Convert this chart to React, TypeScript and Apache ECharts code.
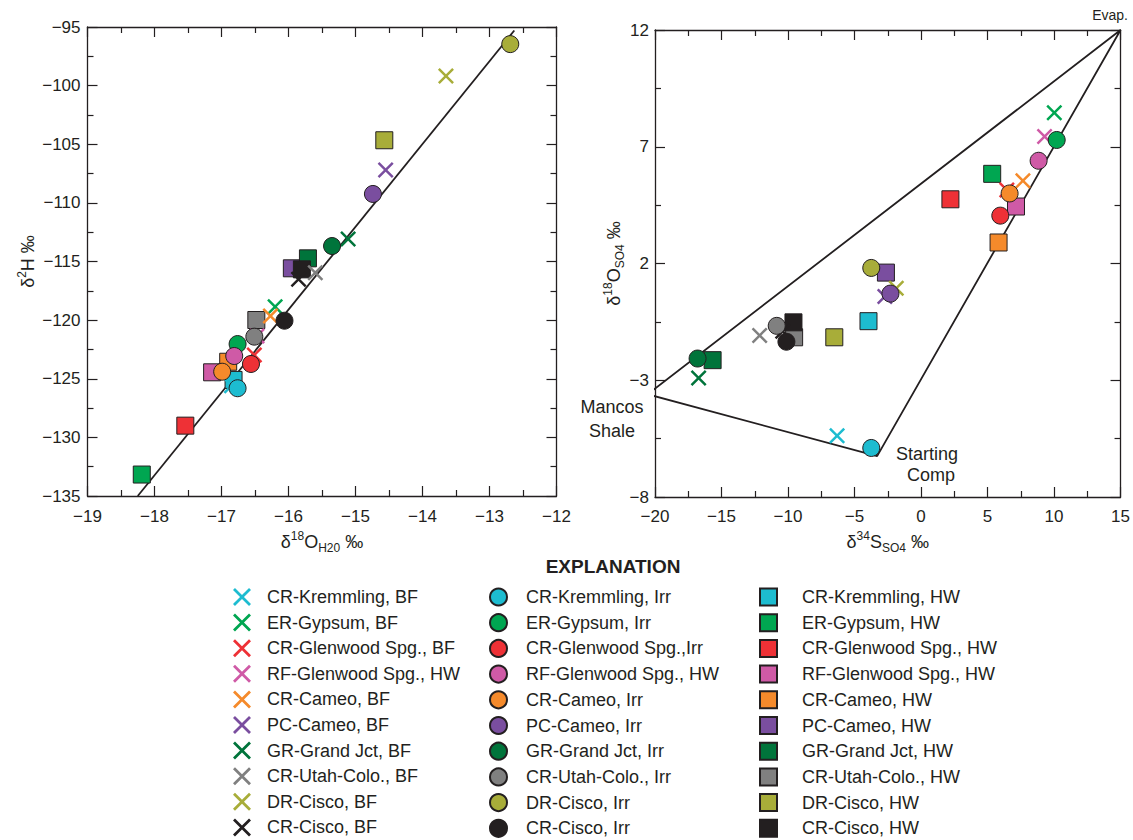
import React, { useEffect, useRef } from "react";
import * as echarts from "echarts";

const COLORS = ["#1dbcd0", "#00a651", "#ee3136", "#cf5aa6", "#f58a2b", "#7a4e9f", "#00743b", "#808080", "#a8ad39", "#231f20"];

const LABELS_BF = ["CR-Kremmling, BF", "ER-Gypsum, BF", "CR-Glenwood Spg., BF", "RF-Glenwood Spg., HW", "CR-Cameo, BF", "PC-Cameo, BF", "GR-Grand Jct, BF", "CR-Utah-Colo., BF", "DR-Cisco, BF", "CR-Cisco, BF"];
const LABELS_IRR = ["CR-Kremmling, Irr", "ER-Gypsum, Irr", "CR-Glenwood Spg.,Irr", "RF-Glenwood Spg., HW", "CR-Cameo, Irr", "PC-Cameo, Irr", "GR-Grand Jct, Irr", "CR-Utah-Colo., Irr", "DR-Cisco, Irr", "CR-Cisco, Irr"];
const LABELS_HW = ["CR-Kremmling, HW", "ER-Gypsum, HW", "CR-Glenwood Spg., HW", "RF-Glenwood Spg., HW", "CR-Cameo, HW", "PC-Cameo, HW", "GR-Grand Jct, HW", "CR-Utah-Colo., HW", "DR-Cisco, HW", "CR-Cisco, HW"];

// Left plot: delta18O (H2O) vs delta2H
const H_BF = [[-16.85, -125.6], [-16.2, -118.85], [-16.51, -122.97], [-16.47, -121.35], [-16.27, -119.65], [-14.55, -107.2], [-15.11, -113.08], [-15.6, -115.95], [-13.65, -99.18], [-15.85, -116.52]];
const H_IRR = [[-16.76, -125.81], [-16.76, -122.04], [-16.56, -123.74], [-16.81, -123.06], [-16.99, -124.4], [-14.74, -109.24], [-15.35, -113.68], [-16.51, -121.41], [-12.69, -96.46], [-16.06, -120.05]];
const H_HW = [[-16.82, -125.1], [-18.19, -133.17], [-17.54, -129.0], [-17.14, -124.45], [-16.9, -123.55], [-15.95, -115.58], [-15.71, -114.73], [-16.48, -119.99], [-14.57, -104.66], [-15.8, -115.67]];
const MWL = [[-18.25, -135], [-12.63, -95.3]];

// Right plot: delta34S (SO4) vs delta18O (SO4)
const S_BF = [[-6.31, -5.38], [10.02, 8.46], [6.45, 5.15], [9.29, 7.44], [7.66, 5.54], [-2.72, 0.59], [-16.72, -2.9], [-12.13, -1.08], [-1.86, 0.94], [-10.4, -0.9]];
const S_IRR = [[-3.74, -5.9], [10.2, 7.29], [5.96, 4.05], [8.84, 6.4], [6.66, 5.0], [-2.3, 0.71], [-16.8, -2.07], [-10.85, -0.67], [-3.74, 1.81], [-10.12, -1.35]];
const S_HW = [[-3.95, -0.47], [5.35, 5.84], [2.21, 4.75], [7.14, 4.44], [5.83, 2.9], [-2.64, 1.61], [-15.67, -2.14], [-9.54, -1.16], [-6.52, -1.16], [-9.59, -0.52]];
const TRIANGLE = [[15, 12], [-20.55, -3.6], [-3.3, -6.25], [15, 12]];

const INK = "#231f20";
const FONT = "'Liberation Sans', Arial, sans-serif";
const XPATH = "path://M0,1.1L1.1,0L5,3.9L8.9,0L10,1.1L6.1,5L10,8.9L8.9,10L5,6.1L1.1,10L0,8.9L3.9,5Z";

const minus = (v: number) => String(v).replace("-", "\u2212");

const richName = {
  b: { fontSize: 18, color: INK, fontFamily: FONT, lineHeight: 24 },
  sup: { fontSize: 12, color: INK, fontFamily: FONT, lineHeight: 14, verticalAlign: "top" },
  sub: { fontSize: 12, color: INK, fontFamily: FONT, lineHeight: 14, verticalAlign: "bottom" },
};

function axis(opts: any) {
  const { gridIndex, min, max, interval, position, showLabel, name, nameGap, labelMargin } = opts;
  return {
    type: "value",
    gridIndex,
    min,
    max,
    interval,
    position,
    name: name || "",
    nameLocation: "middle",
    nameGap: nameGap || 0,
    nameTextStyle: { rich: richName },
    axisLine: { show: true, onZero: false, lineStyle: { color: INK, width: 1.3 } },
    axisTick: { show: true, inside: true, length: 10, lineStyle: { color: INK, width: 1.2 } },
    minorTick: { show: true, splitNumber: 2, length: 6, lineStyle: { color: INK, width: 1.2 } },
    splitLine: { show: false },
    minorSplitLine: { show: false },
    axisLabel: {
      show: showLabel,
      fontSize: 17,
      color: INK,
      fontFamily: FONT,
      margin: labelMargin || 8,
      formatter: minus,
    },
  };
}

function scatter(name: string, data: number[][], color: string, symbol: string, size: number, xi: number, border: boolean) {
  return {
    type: "scatter",
    name,
    xAxisIndex: xi,
    yAxisIndex: xi,
    data,
    symbol,
    symbolSize: size,
    itemStyle: border
      ? { color, borderColor: INK, borderWidth: 1, opacity: 1 }
      : { color, borderWidth: 0, opacity: 1 },
    silent: true,
  };
}

export default function App() {
  const ref = useRef<HTMLDivElement>(null);
  useEffect(() => {
    document.body.style.margin = "0";
    const chart = echarts.init(ref.current!, null, { renderer: "svg" });
    const series: any[] = [];
    series.push({
      type: "line", xAxisIndex: 0, yAxisIndex: 0, data: MWL, symbol: "none", clip: false, silent: true,
      lineStyle: { color: INK, width: 1.8 }, z: 1,
    });
    series.push({
      type: "line", xAxisIndex: 2, yAxisIndex: 2, data: TRIANGLE, symbol: "none", clip: false, silent: true,
      lineStyle: { color: INK, width: 1.8 }, z: 1,
    });
    const sets = [
      { xi: 0, bf: H_BF, irr: H_IRR, hw: H_HW },
      { xi: 2, bf: S_BF, irr: S_IRR, hw: S_HW },
    ];
    sets.forEach((s) => {
      for (let i = 0; i < 10; i++) series.push(scatter(LABELS_HW[i] + "#hw", [s.hw[i]], COLORS[i], "rect", 17, s.xi, true));
      for (let i = 0; i < 10; i++) series.push(scatter(LABELS_BF[i] + "#bf", [s.bf[i]], COLORS[i], XPATH, 16, s.xi, false));
      for (let i = 0; i < 10; i++) series.push(scatter(LABELS_IRR[i] + "#irr", [s.irr[i]], COLORS[i], "circle", 17, s.xi, true));
    });

    const legendBase = {
      orient: "vertical",
      padding: 0,
      selectedMode: false,
      formatter: (n: string) => n.split("#")[0],
    };
    const legendText = (pad: number) => ({ fontSize: 18, lineHeight: 18, color: INK, fontFamily: FONT, padding: [0, 0, 0, pad] });

    const option: any = {
      animation: false,
      backgroundColor: "#ffffff",
      grid: [
        { left: 87.5, top: 27, width: 469, height: 469 },
        { left: 655, top: 30, width: 472, height: 467 },
      ],
      xAxis: [
        axis({ gridIndex: 0, min: -19, max: -12, interval: 1, position: "bottom", showLabel: true, labelMargin: 12, nameGap: 33,
          name: "{b|\u03b4}{sup|18}{b|O}{sub|H20}{b| \u2030}" }),
        axis({ gridIndex: 0, min: -19, max: -12, interval: 1, position: "top", showLabel: false }),
        axis({ gridIndex: 1, min: -20, max: 15, interval: 5, position: "bottom", showLabel: true, labelMargin: 11, nameGap: 32,
          name: "{b|\u03b4}{sup|34}{b|S}{sub|SO4}{b| \u2030}" }),
        axis({ gridIndex: 1, min: -20, max: 15, interval: 5, position: "top", showLabel: false }),
      ],
      yAxis: [
        axis({ gridIndex: 0, min: -135, max: -95, interval: 5, position: "left", showLabel: true, labelMargin: 7, nameGap: 48,
          name: "{b|\u03b4}{sup|2}{b|H \u2030}" }),
        axis({ gridIndex: 0, min: -135, max: -95, interval: 5, position: "right", showLabel: false }),
        axis({ gridIndex: 1, min: -8, max: 12, interval: 5, position: "left", showLabel: true, labelMargin: 6, nameGap: 28,
          name: "{b|\u03b4}{sup|18}{b|O}{sub|SO4}{b| \u2030}" }),
        axis({ gridIndex: 1, min: -8, max: 12, interval: 5, position: "right", showLabel: false }),
      ],
      legend: [
        { ...legendBase, left: 233, top: 588, itemWidth: 18, itemHeight: 18, itemGap: 7.6, textStyle: legendText(11),
          data: LABELS_BF.map((l) => ({ name: l + "#bf", icon: XPATH })) },
        { ...legendBase, left: 489, top: 587.5, itemWidth: 17, itemHeight: 17, itemGap: 6.7, textStyle: legendText(14),
          data: LABELS_IRR.map((l) => ({ name: l + "#irr", icon: "circle" })) },
        { ...legendBase, left: 759, top: 587.5, itemWidth: 17, itemHeight: 17, itemGap: 6.7, textStyle: legendText(20),
          data: LABELS_HW.map((l) => ({ name: l + "#hw", icon: "rect" })) },
      ],
      graphic: [
        { type: "text", x: 1128, y: 15, style: { text: "Evap.", fill: INK, fontSize: 14, fontFamily: FONT, align: "right", verticalAlign: "middle" } },
        { type: "text", x: 612, y: 407, style: { text: "Mancos", fill: INK, fontSize: 18, fontFamily: FONT, align: "center", verticalAlign: "middle" } },
        { type: "text", x: 612, y: 431, style: { text: "Shale", fill: INK, fontSize: 18, fontFamily: FONT, align: "center", verticalAlign: "middle" } },
        { type: "text", x: 927, y: 454, style: { text: "Starting", fill: INK, fontSize: 18, fontFamily: FONT, align: "center", verticalAlign: "middle" } },
        { type: "text", x: 931, y: 475, style: { text: "Comp", fill: INK, fontSize: 18, fontFamily: FONT, align: "center", verticalAlign: "middle" } },
        { type: "text", x: 613, y: 566, style: { text: "EXPLANATION", fill: INK, fontSize: 19, fontWeight: "bold", fontFamily: FONT, align: "center", verticalAlign: "middle" } },
      ],
      series,
    };
    chart.setOption(option);
    return () => chart.dispose();
  }, []);
  return <div ref={ref} style={{ width: 1133, height: 840 }} />;
}
